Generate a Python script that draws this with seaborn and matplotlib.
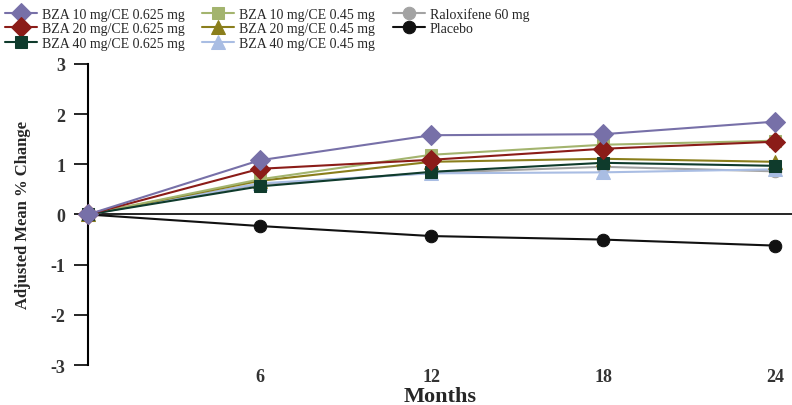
import numpy as np
import pandas as pd
import matplotlib.pyplot as plt
import seaborn as sns

months = [0, 6, 12, 18, 24]

treatments = ['BZA 10 mg/CE 0.625 mg', 'BZA 20 mg/CE 0.625 mg', 'BZA 40 mg/CE 0.625 mg',
              'BZA 10 mg/CE 0.45 mg', 'BZA 20 mg/CE 0.45 mg', 'BZA 40 mg/CE 0.45 mg',
              'Raloxifene 60 mg', 'Placebo']

bza10_625 = [0, 1.08, 1.58, 1.60, 1.85]
bza20_625 = [0, 0.91, 1.09, 1.31, 1.45]
bza40_625 = [0, 0.56, 0.85, 1.03, 0.97]
bza10_45 = [0, 0.70, 1.19, 1.39, 1.47]
bza20_45 = [0, 0.67, 1.05, 1.11, 1.05]
bza40_45 = [0, 0.62, 0.82, 0.84, 0.90]
ralox = [0, 0.60, 0.83, 0.95, 0.86]
placebo = [0, -0.23, -0.43, -0.50, -0.62]

colors = ['#7770a8', '#8b1c18', '#0f3b2c', '#a3b46e', '#8a7e1c', '#a9bde3', '#a3a3a3', '#111111']
markers = ['D', 'D', 's', 's', '^', '^', 'o', 'o']
sizes = [10, 10, 9, 9, 10, 10, 9, 9]

series = [bza10_625, bza20_625, bza40_625, bza10_45, bza20_45, bza40_45, ralox, placebo]
rows = []
for name, vals in zip(treatments, series):
    for m, v in zip(months, vals):
        rows.append({'Months': m, 'Change': v, 'Treatment': name})
df = pd.DataFrame(rows)

sns.set_style('white')
plt.rcParams['font.family'] = ['Liberation Serif', 'DejaVu Serif']

fig = plt.figure(figsize=(7.92, 4.06), dpi=100)
ax = fig.add_axes([0.111, 0.0985, 0.889, 0.7415])

ax.axhline(0, color='black', lw=1.2, zorder=1)

# draw in reverse so the top series end up on top
for i in reversed(range(len(treatments))):
    sub = df[df['Treatment'] == treatments[i]]
    sns.lineplot(data=sub, x='Months', y='Change', ax=ax, color=colors[i],
                 marker=markers[i], markersize=sizes[i], markeredgecolor=colors[i],
                 lw=1.5, clip_on=False, label=treatments[i], zorder=3 + len(treatments) - i)

ax.set_xlim(0, 24.6)
ax.set_ylim(-3, 3)
ax.set_yticks([-3, -2, -1, 0, 1, 2, 3])
ax.set_yticklabels(['-3', '-2', '-1', '0', '1', '2', '3'], fontsize=13, fontweight='bold', color='#333333')
ax.set_xticks([6, 12, 18, 24])
ax.set_xticklabels(['6', '12', '18', '24'], fontsize=13, fontweight='bold', color='#333333')
ax.tick_params(axis='y', direction='out', length=10, width=1.2, color='black', pad=6, left=True)
ax.tick_params(axis='x', length=0, pad=2)

for s in ['top', 'right', 'bottom']:
    ax.spines[s].set_visible(False)
ax.spines['left'].set_color('black')
ax.spines['left'].set_linewidth(1.5)

ax.set_xlabel('Months', fontsize=16, fontweight='bold', labelpad=1)
ax.set_ylabel('Adjusted Mean % Change', fontsize=12, fontweight='bold', labelpad=14)

handles, labels = ax.get_legend_handles_labels()
order = [labels.index(t) for t in treatments]
ax.legend([handles[k] for k in order], [labels[k] for k in order],
          loc='upper left', bbox_to_anchor=(-0.118, 1.19), ncol=3, frameon=False,
          fontsize=10, handlelength=2.3, handletextpad=0.35, columnspacing=1.3,
          labelspacing=0.12, borderaxespad=0, borderpad=0)

fig.savefig('out.png', dpi=100)
